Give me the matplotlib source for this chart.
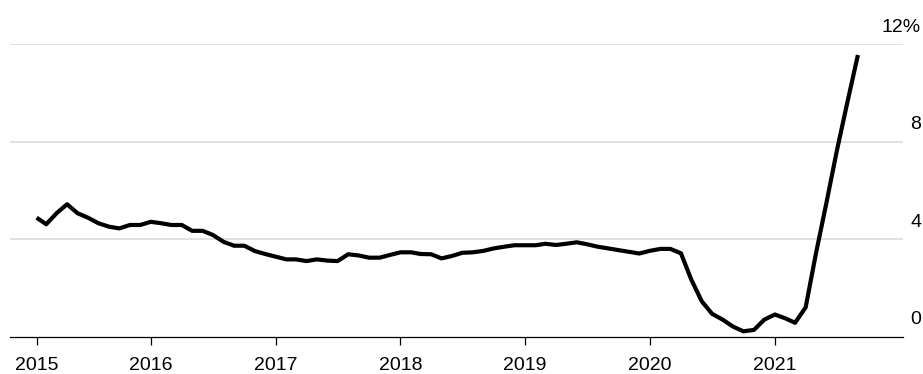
import matplotlib
matplotlib.use("Agg")
import matplotlib.pyplot as plt
import matplotlib.transforms as mtransforms
import numpy as np
import pandas as pd

plt.rcParams['font.family'] = ['Liberation Sans', 'DejaVu Sans']

# monthly values, Feb 2015 .. Sep 2021 (%)
values = [
    4.88, 4.61, 5.07, 5.43, 5.06, 4.88, 4.65, 4.51, 4.44, 4.58, 4.58,   # 2015
    4.71, 4.65, 4.58, 4.58, 4.34, 4.34, 4.17, 3.89, 3.73, 3.73, 3.51, 3.39,  # 2016
    3.28, 3.17, 3.17, 3.10, 3.17, 3.12, 3.10, 3.38, 3.33, 3.24, 3.24, 3.35,  # 2017
    3.46, 3.46, 3.39, 3.38, 3.21, 3.31, 3.44, 3.46, 3.52, 3.62, 3.69, 3.75,  # 2018
    3.75, 3.75, 3.81, 3.76, 3.81, 3.87, 3.79, 3.69, 3.62, 3.55, 3.48, 3.41,  # 2019
    3.52, 3.60, 3.60, 3.42, 2.35, 1.45, 0.94, 0.70, 0.41, 0.22, 0.28, 0.70,  # 2020
    0.91, 0.75, 0.57, 1.20, 3.40, 5.50, 7.60, 9.60, 11.55,                   # 2021
]
dates = pd.date_range('2015-02-01', periods=len(values), freq='MS')

tick_dates = pd.to_datetime(['2015-02-01', '2016-01-01', '2017-01-01', '2018-01-01',
                             '2019-01-01', '2020-01-01', '2021-01-01'])
tick_labels = ['2015', '2016', '2017', '2018', '2019', '2020', '2021']
y_ticks = [0, 4, 8, 12]
y_labels = ['0', '4', '8', '12%']

fig = plt.figure(figsize=(9.23, 3.74), dpi=100)
ax = fig.add_axes([10 / 923, 37.3 / 374, 893 / 923, 292.7 / 374])

# light gridlines
for v in y_ticks[1:]:
    ax.axhline(v, color='#d9d9d9', lw=1.1, zorder=1)

ax.plot(dates, values, color='black', lw=3.0, solid_joinstyle='round',
        solid_capstyle='butt', zorder=3, clip_on=False)

ax.set_xlim(pd.Timestamp('2014-11-15'), pd.Timestamp('2022-01-11'))
ax.set_ylim(0, 12)

for s in ['top', 'left', 'right']:
    ax.spines[s].set_visible(False)
ax.spines['bottom'].set_color('black')
ax.spines['bottom'].set_linewidth(0.9)

ax.set_xticks(tick_dates)
ax.set_xticklabels(tick_labels)
ax.tick_params(axis='x', length=5.8, width=0.9, color='black', labelsize=14, pad=9)
ax.set_yticks([])

# y labels sit right of the axes, above each gridline
trans = mtransforms.blended_transform_factory(ax.transAxes, ax.transData)
trans = mtransforms.offset_copy(trans, fig=fig, x=13, y=9, units='points')
for v, lab in zip(y_ticks, y_labels):
    ax.text(1.0, v, lab, transform=trans, ha='right', va='baseline',
            fontsize=14, color='black')

fig.savefig('out.png', dpi=100)
